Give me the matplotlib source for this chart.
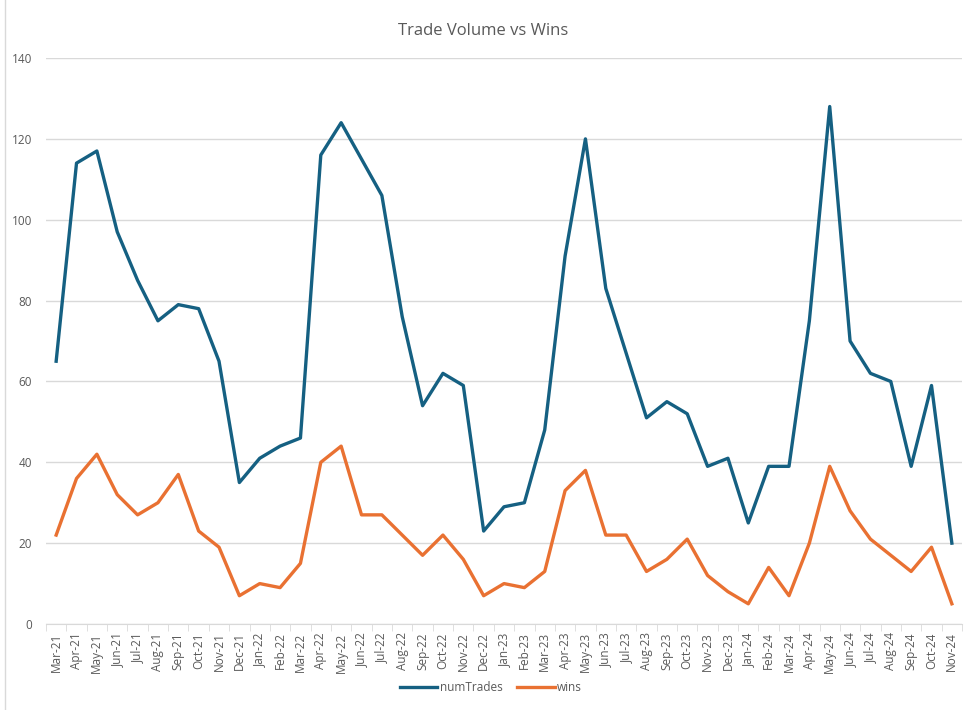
import matplotlib.pyplot as plt
import numpy as np
from matplotlib.lines import Line2D

months = ['Mar-21', 'Apr-21', 'May-21', 'Jun-21', 'Jul-21', 'Aug-21', 'Sep-21', 'Oct-21', 'Nov-21', 'Dec-21',
          'Jan-22', 'Feb-22', 'Mar-22', 'Apr-22', 'May-22', 'Jun-22', 'Jul-22', 'Aug-22', 'Sep-22', 'Oct-22',
          'Nov-22', 'Dec-22', 'Jan-23', 'Feb-23', 'Mar-23', 'Apr-23', 'May-23', 'Jun-23', 'Jul-23', 'Aug-23',
          'Sep-23', 'Oct-23', 'Nov-23', 'Dec-23', 'Jan-24', 'Feb-24', 'Mar-24', 'Apr-24', 'May-24', 'Jun-24',
          'Jul-24', 'Aug-24', 'Sep-24', 'Oct-24', 'Nov-24']
num_trades = [65, 114, 117, 97, 85, 75, 79, 78, 65, 35,
              41, 44, 46, 116, 124, 115, 106, 76, 54, 62,
              59, 23, 29, 30, 48, 91, 120, 83, 67, 51,
              55, 52, 39, 41, 25, 39, 39, 75, 128, 70,
              62, 60, 39, 59, 20]
wins = [22, 36, 42, 32, 27, 30, 37, 23, 19, 7,
        10, 9, 15, 40, 44, 27, 27, 22, 17, 22,
        16, 7, 10, 9, 13, 33, 38, 22, 22, 13,
        16, 21, 12, 8, 5, 14, 7, 20, 39, 28,
        21, 17, 13, 19, 5]

plt.rcParams['font.family'] = ['Open Sans', 'DejaVu Sans']
txt = '#595959'
grid = '#d9d9d9'

fig = plt.figure(figsize=(9.66, 7.10), dpi=100)
ax = fig.add_axes([0.0476, 0.1211, 0.9483, 0.7972])

x = np.arange(len(months))
ax.plot(x, num_trades, color='#156082', lw=2.4, label='numTrades', solid_joinstyle='round')
ax.plot(x, wins, color='#E97132', lw=2.4, label='wins', solid_joinstyle='round')

ax.set_xlim(-0.5, len(months) - 0.5)
ax.set_ylim(0, 140)
ax.set_yticks(range(0, 141, 20))
ax.yaxis.grid(True, color=grid, lw=1)
ax.set_axisbelow(True)
for s in ['top', 'right', 'left']:
    ax.spines[s].set_visible(False)
ax.spines['bottom'].set_color(grid)
ax.tick_params(axis='y', length=0, labelsize=8.5, labelcolor=txt, pad=10)

ax.set_xticks(x)
ax.set_xticklabels(months, rotation=90, fontsize=8.5, color=txt)
ax.set_xticks(np.arange(-0.5, len(months), 1), minor=True)
ax.tick_params(axis='x', which='major', length=0, pad=6)
ax.tick_params(axis='x', which='minor', length=5, color=grid)

fig.suptitle('Trade Volume vs Wins', y=0.968, fontsize=12, color=txt)
fig.legend(loc='center', bbox_to_anchor=(0.508, 0.031), ncol=2, frameon=False,
           fontsize=8.5, labelcolor=txt, handlelength=3.2, columnspacing=1.2, handletextpad=0.2)

fig.add_artist(Line2D([5 / 966, 5 / 966], [0, 1], color=grid, lw=1))

fig.savefig('out.png')
